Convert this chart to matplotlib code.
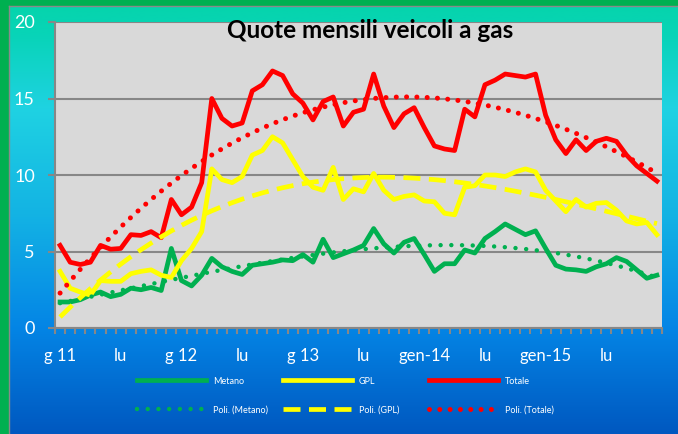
import numpy as np
import matplotlib.pyplot as plt
from matplotlib.colors import LinearSegmentedColormap
from matplotlib.patches import Rectangle
from matplotlib.lines import Line2D

plt.rcParams['font.family'] = ['Lato', 'DejaVu Sans']

# quote mensili (%) da gennaio 2011 a dicembre 2015
metano = [1.7, 1.7, 1.85, 2.15, 2.35, 2.05, 2.2, 2.6, 2.5, 2.65,
          2.45, 5.2, 3.1, 2.75, 3.45, 4.55, 4.0, 3.7, 3.5, 4.1,
          4.2, 4.3, 4.45, 4.4, 4.8, 4.3, 5.8, 4.6, 4.85, 5.1,
          5.4, 6.5, 5.5, 4.9, 5.6, 5.85, 4.8, 3.7, 4.2, 4.2,
          5.1, 4.9, 5.85, 6.3, 6.8, 6.45, 6.1, 6.35, 5.2, 4.1,
          3.85, 3.8, 3.7, 4.0, 4.2, 4.6, 4.35, 3.8, 3.25, 3.45]
gpl = [3.7, 2.6, 2.35, 2.15, 3.1, 3.05, 3.05, 3.55, 3.7, 3.8,
       3.45, 3.3, 4.4, 5.2, 6.3, 10.4, 9.7, 9.5, 9.9, 11.3,
       11.6, 12.5, 12.1, 11.0, 9.9, 9.2, 9.0, 10.5, 8.4, 9.1,
       8.9, 10.1, 9.0, 8.4, 8.6, 8.7, 8.3, 8.25, 7.5, 7.4,
       9.2, 9.3, 10.0, 10.0, 9.9, 10.2, 10.4, 10.2, 9.0, 8.3,
       7.6, 8.4, 7.9, 8.15, 8.2, 7.7, 7.0, 6.8, 6.9, 6.1]
totale = [5.4, 4.3, 4.15, 4.3, 5.4, 5.15, 5.2, 6.1, 6.05, 6.3,
          5.9, 8.4, 7.4, 7.9, 9.5, 15.0, 13.7, 13.2, 13.4, 15.5,
          15.9, 16.8, 16.5, 15.3, 14.7, 13.6, 14.8, 15.1, 13.2, 14.1,
          14.3, 16.6, 14.5, 13.1, 14.0, 14.4, 13.1, 11.9, 11.7, 11.6,
          14.3, 13.8, 15.9, 16.2, 16.6, 16.5, 16.4, 16.6, 13.9, 12.3,
          11.4, 12.3, 11.6, 12.2, 12.4, 12.2, 11.3, 10.6, 10.1, 9.6]
etichette = ['g 11', 'lu', 'g 12', 'lu', 'g 13', 'lu', 'gen-14', 'lu', 'gen-15', 'lu']

mesi = np.arange(len(totale))

W, H = 678, 434
fig = plt.figure(figsize=(W / 100, H / 100), dpi=100)

# sfondo sfumato
bg = fig.add_axes([0, 0, 1, 1], zorder=-10)
sfondo = LinearSegmentedColormap.from_list('sfondo', [
    (0.0, '#05D4AA'), (0.08, '#08D4B8'), (0.25, '#1FD2E2'), (0.5, '#13B2E4'),
    (0.75, '#0486E6'), (1.0, '#0058C0')])
bg.imshow(np.linspace(0, 1, 256).reshape(-1, 1), aspect='auto', cmap=sfondo,
          extent=[0, 1, 0, 1])
bg.set_axis_off()

# cornice verde
fig.add_artist(Rectangle((0, 0), 8 / W, 1, transform=fig.transFigure, color='#00B050', zorder=5))
fig.add_artist(Rectangle((0, 1 - 5 / H), 1, 5 / H, transform=fig.transFigure, color='#00B050', zorder=5))
fig.add_artist(Line2D([8.5 / W, 8.5 / W], [0, 1 - 5.5 / H], transform=fig.transFigure, color='#8A8A8A', lw=1, zorder=6))
fig.add_artist(Line2D([8.5 / W, 1], [1 - 5.5 / H, 1 - 5.5 / H], transform=fig.transFigure, color='#8A8A8A', lw=1, zorder=6))

ax = fig.add_axes([55 / W, 1 - 328 / H, (662 - 55) / W, (328 - 22) / H])
ax.set_facecolor('#D9D9D9')

grigio = '#878787'
l_met, = ax.plot(mesi, metano, color='#00B050', lw=3.4, solid_joinstyle='round', label='Metano')
l_gpl, = ax.plot(mesi, gpl, color='#FFFF00', lw=3.4, solid_joinstyle='round', label='GPL')
l_tot, = ax.plot(mesi, totale, color='#FF0000', lw=3.4, solid_joinstyle='round', label='Totale')

# linee di tendenza polinomiali
grado = 3
t_met, = ax.plot(mesi, np.polyval(np.polyfit(mesi, metano, grado), mesi), color='#00B050',
                 lw=3.2, ls=(0, (0.01, 2.4)), dash_capstyle='round', label='Poli. (Metano)')
t_gpl, = ax.plot(mesi, np.polyval(np.polyfit(mesi, gpl, grado), mesi), color='#FFFF00',
                 lw=3.4, ls=(0, (3.6, 1.8)), label='Poli. (GPL)')
t_tot, = ax.plot(mesi, np.polyval(np.polyfit(mesi, totale, grado), mesi), color='#FF0000',
                 lw=3.6, ls=(0, (0.01, 2.05)), dash_capstyle='round', label='Poli. (Totale)')

ax.set_xlim(-0.5, len(mesi) - 0.5)
ax.set_ylim(0, 20)
ax.set_yticks([0, 5, 10, 15, 20])
ax.set_xticks(mesi[::6])
ax.set_xticklabels(etichette)
ax.set_xticks(np.arange(-0.5, len(mesi), 1), minor=True)
ax.grid(axis='y', color=grigio, lw=1.5)
ax.set_axisbelow(True)
for s in ['top', 'right']:
    ax.spines[s].set_visible(False)
for s in ['left', 'bottom']:
    ax.spines[s].set_color(grigio)
    ax.spines[s].set_linewidth(1.5)
ax.tick_params(axis='x', which='major', length=0, pad=14.5, labelcolor='white', labelsize=12)
ax.tick_params(axis='x', which='minor', length=4.5, width=1.5, color=grigio)
ax.tick_params(axis='y', length=5, width=1.5, color=grigio, labelcolor='white', labelsize=13, pad=9.5)

fig.text(370 / W, 1 - 30 / H, 'Quote mensili veicoli a gas', ha='center', va='center',
         fontsize=17.5, fontweight='bold', color='black')

# legenda: tre colonne separate
for i, (a, b) in enumerate([(l_met, t_met), (l_gpl, t_gpl), (l_tot, t_tot)]):
    leg = fig.legend([a, b], [a.get_label(), b.get_label()], loc='center left',
                     bbox_to_anchor=((137 + 146 * i) / W, 1 - 395.5 / H),
                     frameon=False, fontsize=6.5, handlelength=7.6, handletextpad=0.8,
                     labelspacing=2.2, borderpad=0, borderaxespad=0, labelcolor='white')

fig.savefig('out.png', dpi=100)
